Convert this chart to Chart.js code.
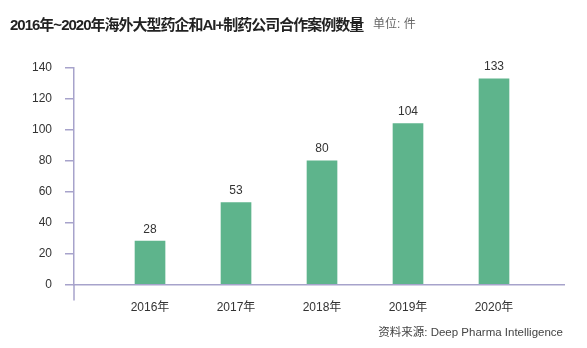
<!DOCTYPE html>
<html>
<head>
<meta charset="utf-8">
<script src="https://cdn.jsdelivr.net/npm/chart.js@4"></script>
<style>
  html, body { margin: 0; padding: 0; background: #fff; }
  #wrap { position: relative; width: 587px; height: 348px; }
  #title { position: absolute; left: 10px; top: 13px; line-height: 20px; white-space: nowrap;
    font: bold 15px "Liberation Sans", "Noto Sans CJK SC", sans-serif; color: #222; letter-spacing: -1px; }
  #unit { position: absolute; left: 373px; top: 14px; line-height: 20px;
    font: 12px "Liberation Sans", "Noto Sans CJK SC", sans-serif; color: #666; }
  #source { position: absolute; right: 24px; top: 323px; line-height: 16px; white-space: nowrap;
    font: 11.5px "Liberation Sans", "Noto Sans CJK SC", sans-serif; color: #444; }
  canvas { position: absolute; left: 0; top: 0; }
</style>
</head>
<body>
<div id="wrap">
  <canvas id="cases-chart" width="587" height="348"></canvas>
  <div id="title">2016年~2020年海外大型药企和AI+制药公司合作案例数量</div>
  <div id="unit">单位: 件</div>
  <div id="source">资料来源: Deep Pharma Intelligence</div>
</div>
<script>
  // 年份与合作案例数
  const years = ["2016年", "2017年", "2018年", "2019年", "2020年"];
  const cases = [28, 53, 80, 104, 133];
  const yTicks = [0, 20, 40, 60, 80, 100, 120, 140];

  const axisColor = "#a7a3cb";
  const barColor = "#5eb48c";
  const fontFamily = "'Liberation Sans', 'Noto Sans CJK SC', sans-serif";

  // 柱顶数值 + y轴向下延伸
  const extras = {
    id: "extras",
    afterDatasetsDraw(chart) {
      const ctx = chart.ctx;
      const meta = chart.getDatasetMeta(0);
      ctx.save();
      ctx.font = "12px " + fontFamily;
      ctx.fillStyle = "#333";
      ctx.textAlign = "center";
      ctx.textBaseline = "bottom";
      meta.data.forEach(function (bar, i) {
        ctx.fillText(String(cases[i]), bar.x, bar.y - 6);
      });
      const area = chart.chartArea;
      ctx.strokeStyle = axisColor;
      ctx.lineWidth = 1.5;
      ctx.beginPath();
      ctx.moveTo(area.left, area.bottom);
      ctx.lineTo(area.left, area.bottom + 16);
      ctx.stroke();
      ctx.restore();
    }
  };

  const ctx = document.getElementById("cases-chart").getContext("2d");
  new Chart(ctx, {
    type: "bar",
    data: {
      datasets: [{
        data: cases.map(function (v, i) { return { x: i, y: v }; }),
        backgroundColor: barColor,
        barThickness: 30
      }]
    },
    options: {
      responsive: false,
      animation: false,
      layout: { padding: { top: 68, right: 23, bottom: 0, left: 0 } },
      plugins: { legend: { display: false }, tooltip: { enabled: false } },
      scales: {
        x: {
          type: "linear",
          offset: false,
          min: -0.884,
          max: 4.814,
          afterBuildTicks: function (scale) {
            scale.ticks = years.map(function (_, i) { return { value: i }; });
          },
          afterFit: function (scale) { scale.height = 63.5; },
          grid: { display: false, offset: false },
          border: { display: true, color: axisColor, width: 1.5 },
          ticks: {
            padding: 8,
            color: "#333",
            font: { size: 12, family: fontFamily },
            callback: function (v) { return years[v]; }
          }
        },
        y: {
          min: 0,
          max: 140,
          afterBuildTicks: function (scale) {
            scale.ticks = yTicks.map(function (v) { return { value: v }; });
          },
          afterFit: function (scale) { scale.width = 74; },
          grid: { drawOnChartArea: false, drawTicks: true, tickLength: 9, color: axisColor, lineWidth: 1.5 },
          border: { display: true, color: axisColor, width: 1.5 },
          ticks: {
            padding: 13,
            color: "#333",
            font: { size: 12, family: fontFamily }
          }
        }
      }
    },
    plugins: [extras]
  });
</script>
</body>
</html>
